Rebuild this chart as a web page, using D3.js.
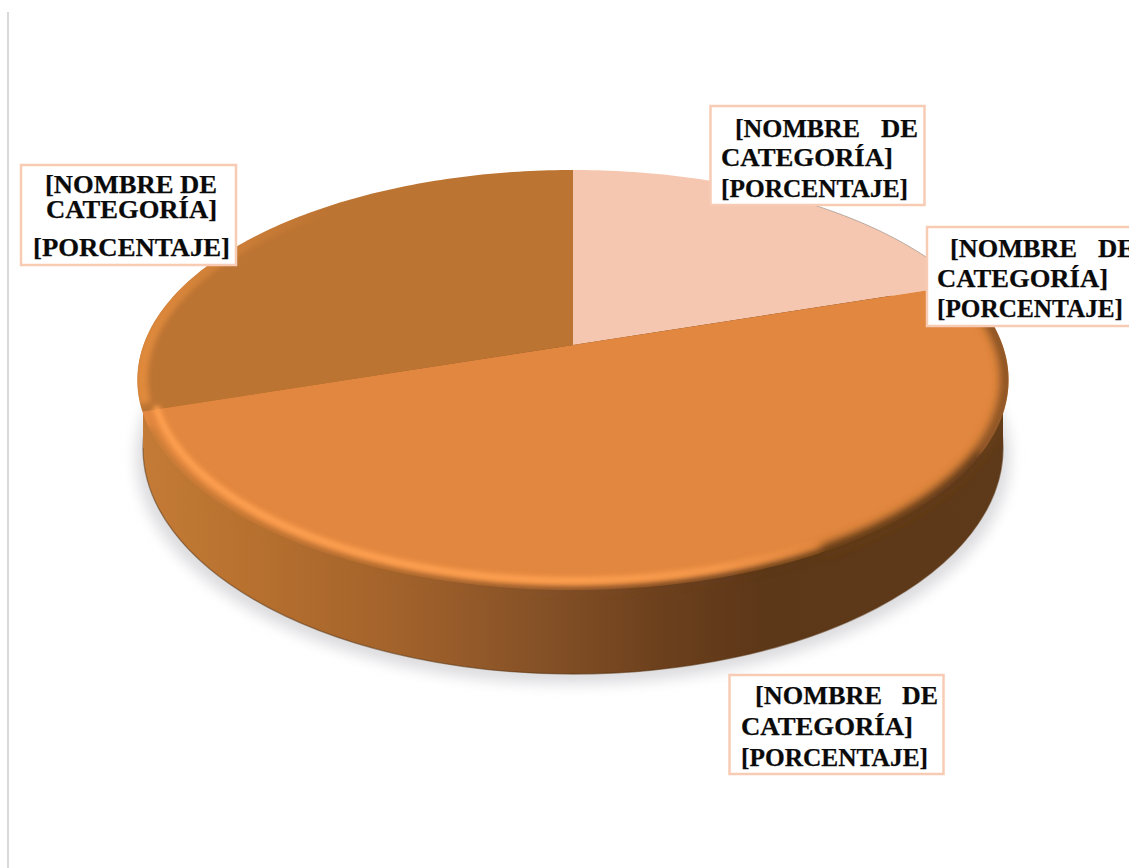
<!DOCTYPE html>
<html>
<head>
<meta charset="utf-8">
<script src="https://cdn.jsdelivr.net/npm/d3@7/dist/d3.min.js"></script>
<style>
html,body{margin:0;padding:0;background:#fff;overflow:hidden}
svg{display:block}
text{font-family:"Liberation Serif",serif;font-weight:700;font-size:26px;fill:#0a0a0a;stroke:#0a0a0a;stroke-width:.25}
</style>
</head>
<body>
<svg id="chart" width="1129" height="868"></svg>
<script>
// Pie shares, clockwise from twelve o'clock
const categories = ["Segmento A", "Segmento B", "Segmento C"];
const shares = [20, 50, 30];
const sliceColors = ["#f5c7b0", "#e2873f", "#bc7433"];

// Data label placeholder strings
const nameWord = "[NOMBRE";
const ofWord = "DE";
const nameWords = "[NOMBRE DE";
const categoryWord = "CATEGORÍA]";
const percentWord = "[PORCENTAJE]";

const svg = d3.select("#chart");
const defs = svg.append("defs");

// Tilted disc: unit circle coordinates projected with perspective
const apex = {x: 573, y: 345};
const persp = -1 / 6, spreadX = 429.5, spreadY = 204.17;
const project = (u, v) => {
  const w = 1 + persp * v;
  return [apex.x + spreadX * u / w, apex.y + spreadY * v / w];
};
const onRim = (a, r = 1) => project(r * Math.sin(a), -r * Math.cos(a));
const toRad = d3.scaleLinear().domain([0, 360]).range([0, 2 * Math.PI]);

const pieLayout = d3.pie().sort(null).value(d => d)(shares);
const outline = d3.line();
const slicePath = s => {
  const n = Math.ceil((s.endAngle - s.startAngle) * 60);
  const rim = d3.range(n + 1).map(i =>
    onRim(d3.interpolateNumber(s.startAngle, s.endAngle)(i / n)));
  return outline([project(0, 0), ...rim]) + "Z";
};
const rimArc = (from, to, r = 1) =>
  outline(d3.range(from, to + 1).map(d => onRim(toRad(d), r)));
const rimPath = rimArc(0, 360) + "Z";

// Page rule on the left
svg.append("line").attr("x1", 8).attr("x2", 8).attr("y1", 12).attr("y2", 868)
  .attr("stroke", "#d9d9d9").attr("stroke-width", 2);

// Blur filters for the shadow and bevel
const blur = (id, sd) => defs.append("filter").attr("id", id)
  .attr("x", "-20%").attr("y", "-20%").attr("width", "140%").attr("height", "140%")
  .append("feGaussianBlur").attr("stdDeviation", sd);
blur("shadowBlur", 7);
blur("edgeBlur", 3);
blur("shadeBlur", 5);
blur("glowBlur", 2.4);

// Soft shadow below the disc
const baseCy = 448, baseRx = 430, baseRy = 226;
svg.append("ellipse")
  .attr("cx", apex.x).attr("cy", baseCy + 9).attr("rx", baseRx + 7).attr("ry", baseRy + 1)
  .attr("fill", "#dcdcdf").attr("filter", "url(#shadowBlur)");

// Side wall, shaded from left to right
const sideGrad = defs.append("linearGradient").attr("id", "sideGrad")
  .attr("gradientUnits", "userSpaceOnUse")
  .attr("x1", 140).attr("x2", 1010).attr("y1", 0).attr("y2", 0);
[[0, "#c47b37"], [0.12, "#b8712f"], [0.3, "#a2622b"], [0.45, "#875227"],
 [0.6, "#6c401d"], [0.72, "#5c3718"], [1, "#5f3a1a"]]
  .forEach(([o, c]) => sideGrad.append("stop").attr("offset", o).attr("stop-color", c));

svg.append("ellipse")
  .attr("cx", apex.x).attr("cy", baseCy).attr("rx", baseRx).attr("ry", baseRy)
  .attr("fill", "url(#sideGrad)")
  .attr("stroke", "#5a3412").attr("stroke-opacity", 0.55).attr("stroke-width", 1.3);
svg.append("rect")
  .attr("x", apex.x - baseRx).attr("width", baseRx * 2)
  .attr("y", 380).attr("height", baseCy - 380)
  .attr("fill", "url(#sideGrad)");

// Top face
svg.append("g").selectAll("path").data(pieLayout).join("path")
  .attr("d", slicePath)
  .attr("fill", (d, i) => sliceColors[i]);

// Thin grey line along the far edge of the light slice
svg.append("path").attr("d", rimArc(25, 68))
  .attr("fill", "none").attr("stroke", "#8f8580").attr("stroke-opacity", 0.6).attr("stroke-width", 1);

// Bevel shading, kept inside the disc and wall silhouette
const solidClip = defs.append("clipPath").attr("id", "solidClip");
solidClip.append("path").attr("d", rimPath);
solidClip.append("ellipse").attr("cx", apex.x).attr("cy", baseCy).attr("rx", baseRx).attr("ry", baseRy);
solidClip.append("rect").attr("x", apex.x - baseRx).attr("width", baseRx * 2)
  .attr("y", 380).attr("height", baseCy - 380);
defs.append("clipPath").attr("id", "discClip").append("path").attr("d", rimPath);

const bevel = svg.append("g").attr("clip-path", "url(#solidClip)");

// Wider dark shading on the right-hand part of the rim
bevel.append("path").attr("d", rimArc(76, 150, 0.995))
  .attr("fill", "none").attr("stroke", "#6a4119").attr("stroke-opacity", 0.85).attr("stroke-width", 11)
  .attr("filter", "url(#shadeBlur)");

// Soft transition from the face into the wall along the near edge
bevel.append("path").attr("d", rimArc(120, 247))
  .attr("fill", "none").attr("stroke", "url(#sideGrad)").attr("stroke-width", 7)
  .attr("stroke-linecap", "round").attr("filter", "url(#edgeBlur)");

// Bright band set slightly inside the near edge, fading toward the right
const glowGrad = defs.append("linearGradient").attr("id", "glowGrad")
  .attr("gradientUnits", "userSpaceOnUse")
  .attr("x1", 140).attr("x2", 1010).attr("y1", 0).attr("y2", 0);
[[0, 1], [0.5, 1], [0.66, 0.75], [0.78, 0]]
  .forEach(([o, a]) => glowGrad.append("stop").attr("offset", o)
    .attr("stop-color", "#ffa050").attr("stop-opacity", a));
bevel.append("path").attr("d", rimArc(130, 252, 0.968))
  .attr("fill", "none").attr("stroke", "url(#glowGrad)").attr("stroke-width", 7)
  .attr("stroke-linecap", "round").attr("filter", "url(#glowBlur)");

// Lighter rim on the far-left slice, fading as it climbs
const leftGrad = defs.append("linearGradient").attr("id", "leftGrad")
  .attr("gradientUnits", "userSpaceOnUse")
  .attr("x1", 140).attr("x2", 330).attr("y1", 0).attr("y2", 0);
[[0, 1], [0.4, 0.55], [1, 0]]
  .forEach(([o, a]) => leftGrad.append("stop").attr("offset", o)
    .attr("stop-color", "#e08a3c").attr("stop-opacity", a));
svg.append("g").attr("clip-path", "url(#discClip)")
  .append("path").attr("d", rimArc(254, 325, 0.99))
  .attr("fill", "none").attr("stroke", "url(#leftGrad)").attr("stroke-width", 12)
  .attr("filter", "url(#glowBlur)");

// Data labels on white boxes
const boxes = [
  {x: 710.5, y: 106, w: 214, h: 99, rows: [
    {y: 137, x: 735, len: 125, text: nameWord}, {y: 137, x: 881, len: 37, text: ofWord},
    {y: 166, x: 721, len: 172, text: categoryWord}, {y: 197, x: 721, len: 187, text: percentWord}]},
  {x: 927, y: 227, w: 220, h: 99, rows: [
    {y: 257, x: 950, len: 127, text: nameWord}, {y: 257, x: 1098, len: 37, text: ofWord},
    {y: 287, x: 937, len: 171, text: categoryWord}, {y: 317, x: 937, len: 186, text: percentWord}]},
  {x: 729.5, y: 675, w: 214, h: 99, rows: [
    {y: 704, x: 755, len: 127, text: nameWord}, {y: 704, x: 902, len: 36, text: ofWord},
    {y: 735, x: 741, len: 172, text: categoryWord}, {y: 766, x: 741, len: 187, text: percentWord}]},
  {x: 21, y: 165, w: 215, h: 100, rows: [
    {y: 193, x: 45, len: 172, text: nameWords}, {y: 218, x: 46, len: 171, text: categoryWord},
    {y: 256, x: 33, len: 197, text: percentWord}]}
];

boxes.forEach(b => {
  const g = svg.append("g");
  g.append("rect").attr("x", b.x).attr("y", b.y).attr("width", b.w).attr("height", b.h)
    .attr("fill", "#fff").attr("stroke", "#f8cbb5").attr("stroke-width", 2.5);
  g.selectAll("text").data(b.rows).join("text")
    .attr("x", d => d.x).attr("y", d => d.y)
    .attr("textLength", d => d.len).attr("lengthAdjust", "spacingAndGlyphs")
    .text(d => d.text);
});
</script>
</body>
</html>
